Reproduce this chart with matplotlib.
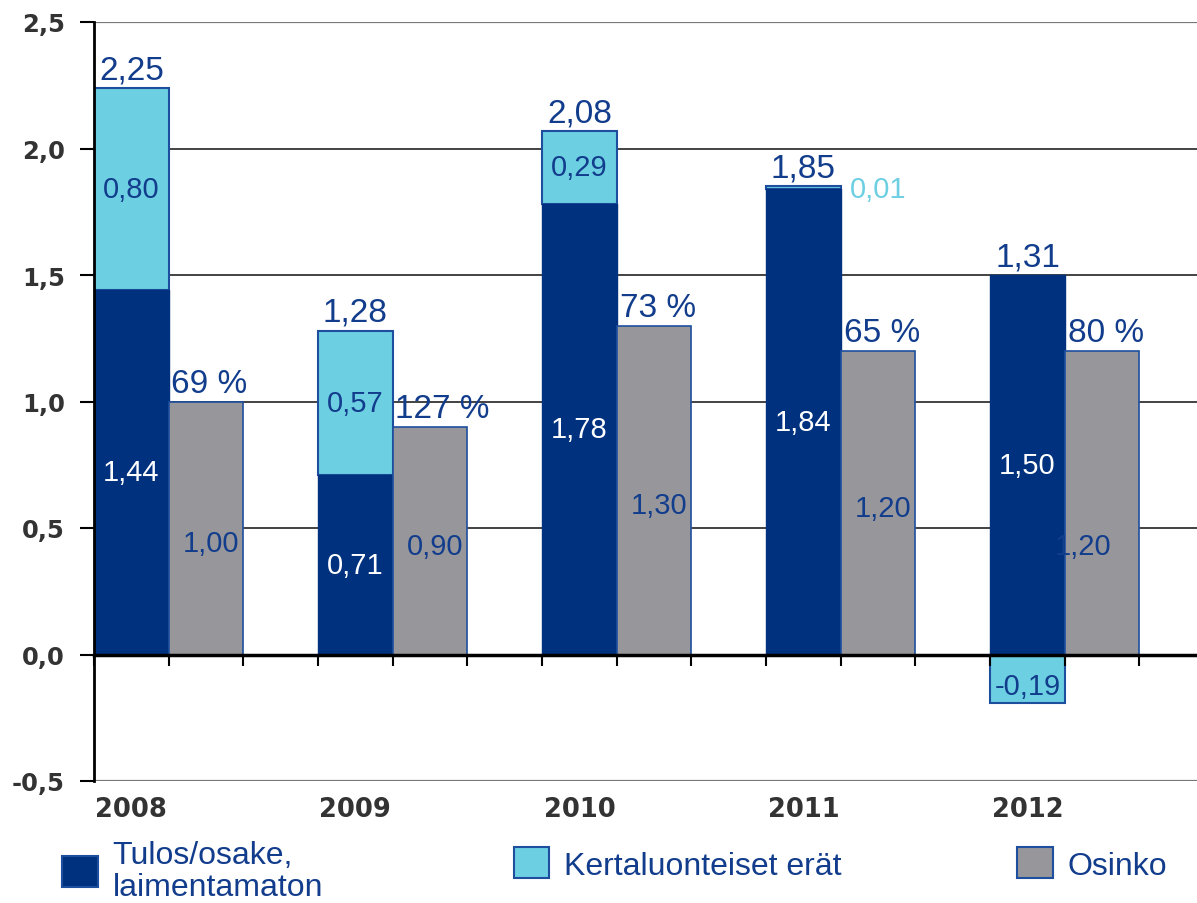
import matplotlib
matplotlib.use("Agg")
import matplotlib.pyplot as plt
from matplotlib.patches import Patch

years = ["2008", "2009", "2010", "2011", "2012"]
eps_underlying = [1.44, 0.71, 1.78, 1.84, 1.50]
one_off_items = [0.80, 0.57, 0.29, 0.01, -0.19]
eps_totals = [2.25, 1.28, 2.08, 1.85, 1.31]
dividend = [1.00, 0.90, 1.30, 1.20, 1.20]
payout = ["69 %", "127 %", "73 %", "65 %", "80 %"]
yticks = [-0.5, 0.0, 0.5, 1.0, 1.5, 2.0, 2.5]

# small hand nudges (points) for the dividend labels, as in the original slide
div_label_nudge = [(-3, -11), (-3, -4), (-3, -11), (-3, -4), (-20, -31)]

NAVY = "#00317f"
CYAN = "#6ccfe2"
GREY = "#97979b"
TEXT = "#123c8c"
EDGE = "#1d4f9e"


def fi(v):
    return f"{v:.2f}".replace(".", ",")


def main():
    fig = plt.figure(figsize=(11.97, 9.04), dpi=100)
    ax = fig.add_axes([94 / 1197, 1 - 782 / 904, 1 - 94 / 1197, (782 - 23) / 904])

    xd = [3 * i + 0.5 for i in range(len(years))]
    xg = [3 * i + 1.5 for i in range(len(years))]

    ax.bar(xd, eps_underlying, width=1.0, color=NAVY, edgecolor=NAVY, lw=1, zorder=2)
    bottoms = [d if o >= 0 else 0 for d, o in zip(eps_underlying, one_off_items)]
    ax.bar(xd, one_off_items, width=1.0, bottom=bottoms, color=CYAN,
           edgecolor=EDGE, lw=1.5, zorder=1.5)
    ax.bar(xg, dividend, width=1.0, color=GREY, edgecolor=EDGE, lw=1.2, zorder=2)

    lab = dict(family="Liberation Sans", zorder=5)
    for i in range(len(years)):
        d, o, g = eps_underlying[i], one_off_items[i], dividend[i]
        top = max(d, d + o)
        ax.annotate(fi(eps_totals[i]), (xd[i], top), xytext=(0, 2),
                    textcoords="offset points", ha="center", va="bottom",
                    fontsize=24, color=TEXT, **lab)
        ax.annotate(payout[i], (xg[i] - 0.5, g), xytext=(2, 2),
                    textcoords="offset points", ha="left", va="bottom",
                    fontsize=24, color=TEXT, **lab)
        ax.text(xd[i], d / 2, fi(d), ha="center", va="center",
                fontsize=21, color="white", **lab)
        ax.annotate(fi(g), (xg[i] + 0.5, g / 2), xytext=div_label_nudge[i],
                    textcoords="offset points", ha="right", va="center",
                    fontsize=21, color=TEXT, **lab)
        if abs(o) < 0.05:
            ax.text(xg[i], d, fi(o), ha="center", va="center",
                    fontsize=21, color=CYAN, **lab)
        elif o > 0:
            ax.text(xd[i], d + o / 2, fi(o), ha="center", va="center",
                    fontsize=21, color=TEXT, **lab)
        else:
            ax.text(xd[i], o / 2 - 0.03, fi(o), ha="center", va="center",
                    fontsize=21, color=TEXT, **lab)

    ax.set_xlim(0, 14.77)
    ax.set_ylim(-0.5, 2.5)
    ax.set_yticks(yticks)
    ax.set_yticklabels([f"{v:.1f}".replace(".", ",") for v in yticks],
                       fontsize=17.5, fontweight="bold", color="#333333",
                       family="DejaVu Sans")
    ax.tick_params(axis="y", length=10, width=1.5, pad=11, color="black")

    for v in yticks:
        if v == 0.0:
            continue
        edge = v in (-0.5, 2.5)
        ax.axhline(v, color="#777777" if edge else "#222222",
                   lw=1.6 if edge else 1.2, zorder=0)

    ax.spines["bottom"].set_position(("data", 0))
    ax.spines["bottom"].set_linewidth(2.5)
    ax.spines["bottom"].set_zorder(3)
    ax.spines["left"].set_linewidth(2)
    ax.spines["top"].set_visible(False)
    ax.spines["right"].set_visible(False)
    ax.set_xticks(range(0, 15))
    ax.set_xticklabels([])
    ax.tick_params(axis="x", length=8, width=1.5, direction="out")

    for i, y in enumerate(years):
        ax.annotate(y, (xd[i], -0.5), xytext=(0, -20), textcoords="offset points",
                    ha="center", va="center", fontsize=18.5, fontweight="bold",
                    color="#333333", family="DejaVu Sans", annotation_clip=False)

    handles = [
        (Patch(facecolor=NAVY, edgecolor=EDGE, lw=1.5), "Tulos/osake,\nlaimentamaton", 0.052, 872),
        (Patch(facecolor=CYAN, edgecolor=EDGE, lw=1.5), "Kertaluonteiset erät", 0.429, 865),
        (Patch(facecolor=GREY, edgecolor=EDGE, lw=1.5), "Osinko", 0.850, 865),
    ]
    for h, t, x, yc in handles:
        leg = fig.legend([h], [t], loc="center left", bbox_to_anchor=(x, 1 - yc / 904),
                         frameon=False, handlelength=1.12, handleheight=1.12,
                         handletextpad=0.45, borderaxespad=0, borderpad=0,
                         prop={"family": "Liberation Sans", "size": 23},
                         labelspacing=0.1)
        for txt in leg.get_texts():
            txt.set_color(TEXT)
            txt.set_linespacing(1.05)

    fig.savefig("out.png", dpi=100)


if __name__ == "__main__":
    main()
